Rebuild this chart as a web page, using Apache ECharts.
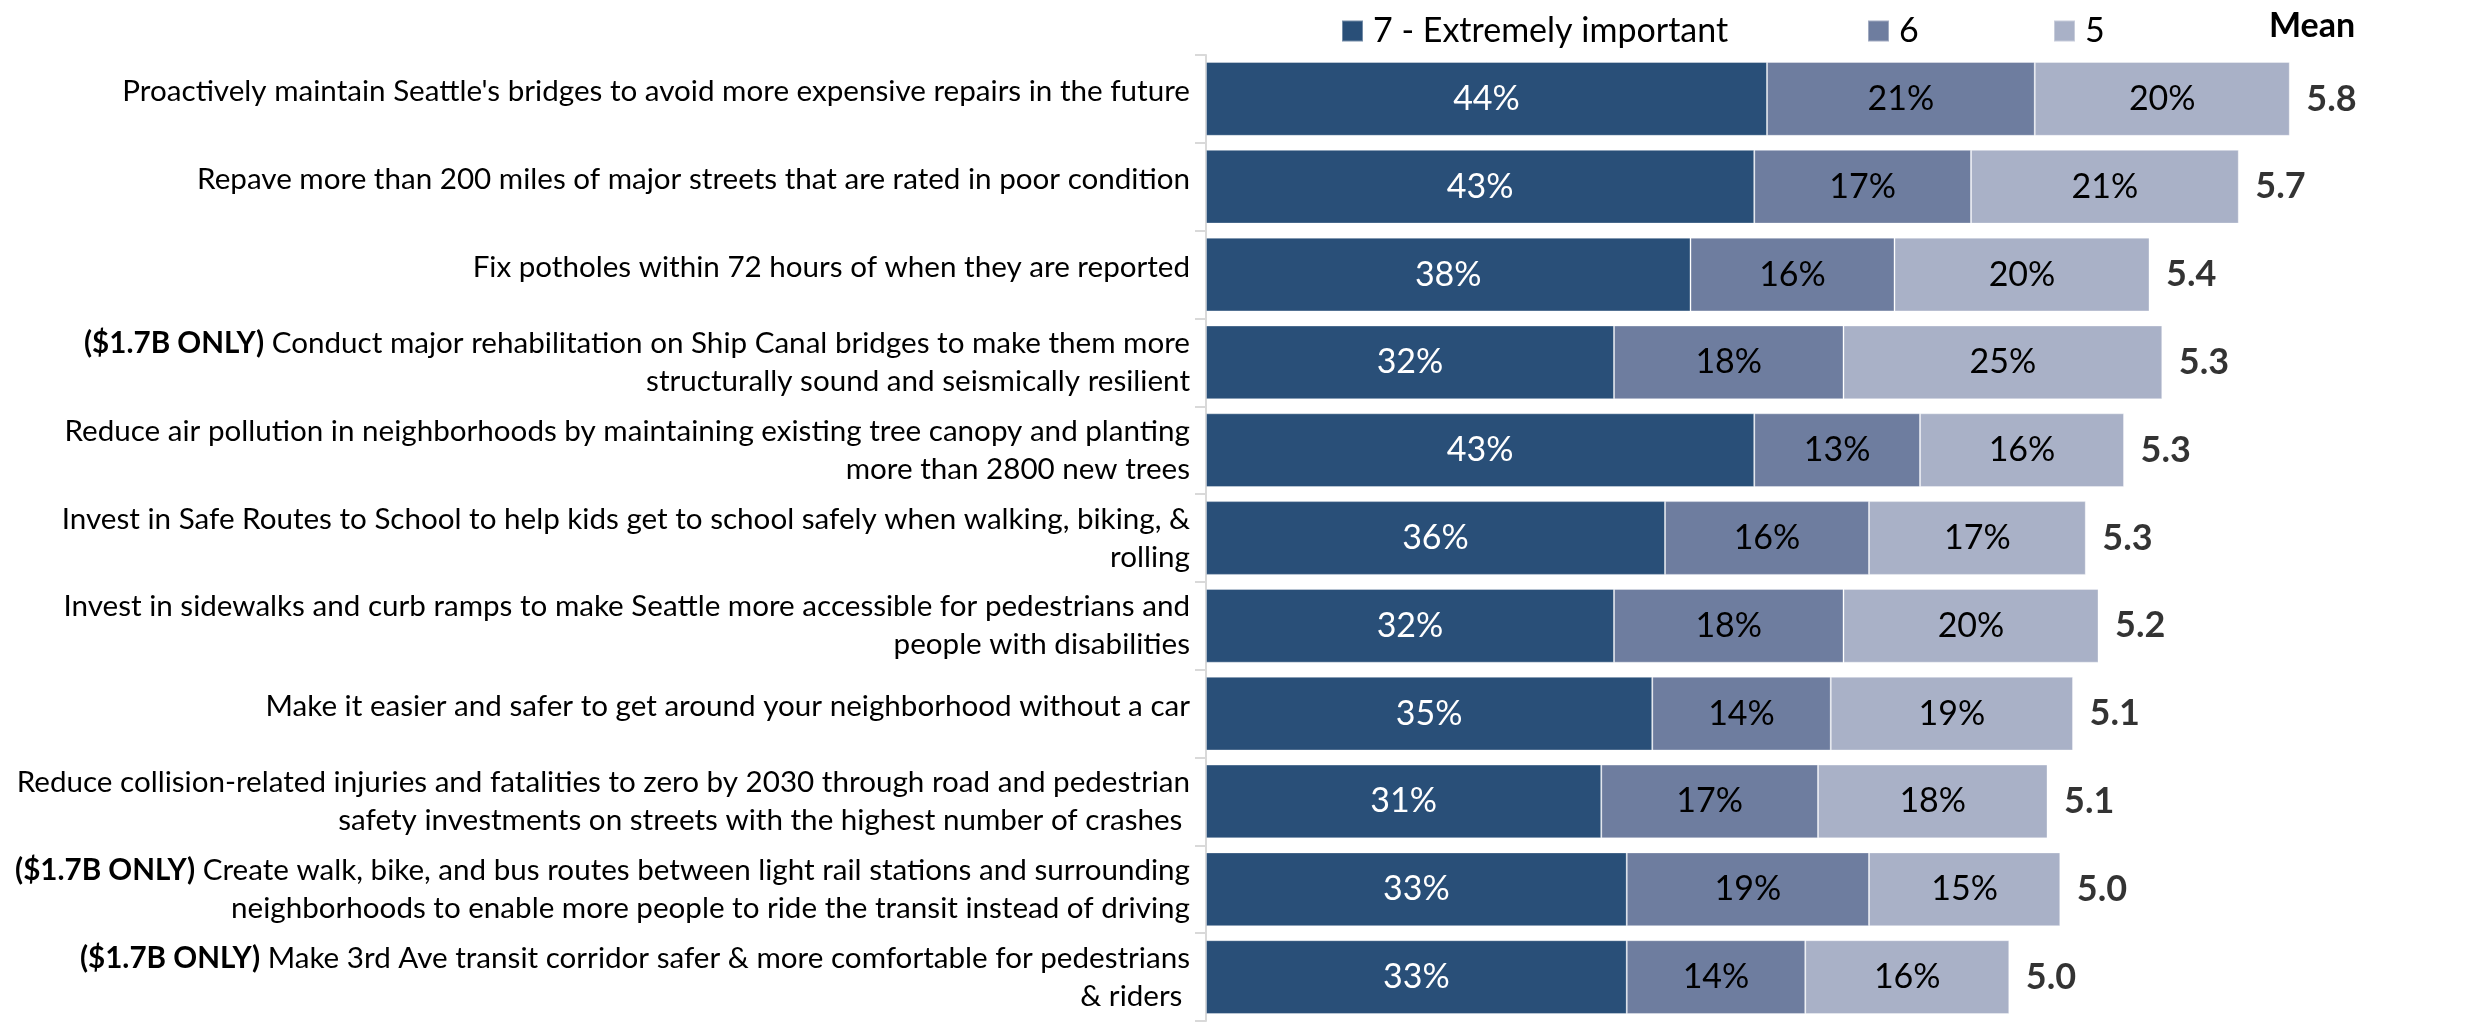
<!DOCTYPE html>
<html>
<head>
<meta charset="utf-8">
<title>Importance of transportation priorities</title>
<script src="https://cdn.jsdelivr.net/npm/echarts@6/dist/echarts.min.js"></script>
<style>
  html, body { margin: 0; padding: 0; background: #ffffff; }
  #chart { width: 2483px; height: 1023px; }
</style>
</head>
<body>
<div id="chart"></div>
<script>
// Survey items, top to bottom (line breaks as they wrap in the label column)
const categories = [
  "Proactively maintain Seattle's bridges to avoid more expensive repairs in the future",
  "Repave more than 200 miles of major streets that are rated in poor condition",
  "Fix potholes within 72 hours of when they are reported",
  "($1.7B ONLY) Conduct major rehabilitation on Ship Canal bridges to make them more\nstructurally sound and seismically resilient",
  "Reduce air pollution in neighborhoods by maintaining existing tree canopy and planting\nmore than 2800 new trees",
  "Invest in Safe Routes to School to help kids get to school safely when walking, biking, &\nrolling",
  "Invest in sidewalks and curb ramps to make Seattle more accessible for pedestrians and\npeople with disabilities",
  "Make it easier and safer to get around your neighborhood without a car",
  "Reduce collision-related injuries and fatalities to zero by 2030 through road and pedestrian\nsafety investments on streets with the highest number of crashes ",
  "($1.7B ONLY) Create walk, bike, and bus routes between light rail stations and surrounding\nneighborhoods to enable more people to ride the transit instead of driving",
  "($1.7B ONLY) Make 3rd Ave transit corridor safer & more comfortable for pedestrians\n& riders "
];

// Share of respondents (%) by rating
const rating7 = [44, 43, 38, 32, 43, 36, 32, 35, 31, 33, 33];
const rating6 = [21, 17, 16, 18, 13, 16, 18, 14, 17, 19, 14];
const rating5 = [20, 21, 20, 25, 16, 17, 20, 19, 18, 15, 16];

// Mean rating on the 1-7 scale
const means = [5.8, 5.7, 5.4, 5.3, 5.3, 5.3, 5.2, 5.1, 5.1, 5.0, 5.0];

const seriesNames = ['7 - Extremely important', '6', '5'];
const seriesColors = ['#294f78', '#6e7d9f', '#a9b1c7'];
const labelColors = ['#ffffff', '#000000', '#000000'];

const FONT = "Lato, 'DejaVu Sans Condensed', 'Liberation Sans', sans-serif";
const PREFIX = '($1.7B ONLY)';
const AXIS_FONT_SIZE = 29.6;

const chart = echarts.init(document.getElementById('chart'), null, { renderer: 'canvas' });

const barSeries = [rating7, rating6, rating5].map((vals, k) => ({
  name: seriesNames[k],
  type: 'bar',
  stack: 'total',
  barCategoryGap: '16%',
  data: vals,
  itemStyle: {
    color: seriesColors[k],
    borderColor: 'rgba(255,255,255,0.35)',
    borderWidth: 1
  },
  label: {
    show: true,
    position: 'inside',
    formatter: p => p.value + '%',
    color: labelColors[k],
    fontFamily: FONT,
    fontSize: 34
  },
  emphasis: { disabled: true }
}));

// Mean value placed just past the end of each stacked bar
const totals = categories.map((_, i) => rating7[i] + rating6[i] + rating5[i]);
const meanSeries = {
  name: 'Mean',
  type: 'scatter',
  data: totals.map((t, i) => [t, i]),
  symbolSize: 1,
  itemStyle: { color: 'transparent' },
  silent: true,
  label: {
    show: true,
    position: 'right',
    distance: 16,
    formatter: p => means[p.dataIndex].toFixed(1),
    color: '#000000',
    fontFamily: FONT,
    fontWeight: 'bold',
    fontSize: 36
  }
};

const legendCommon = {
  top: 14,
  padding: 0,
  icon: 'rect',
  itemWidth: 21,
  itemHeight: 21,
  selectedMode: false,
  textStyle: {
    fontFamily: FONT,
    fontSize: 34,
    color: '#000000',
    lineHeight: 21,
    padding: [0, 0, 0, 5]
  }
};

const axisText = { fontFamily: FONT, fontSize: AXIS_FONT_SIZE, lineHeight: 38, color: '#000000' };

chart.setOption({
  animation: false,
  backgroundColor: '#ffffff',
  title: {
    text: 'Mean',
    left: 2269,
    top: 9,
    padding: 0,
    textStyle: {
      fontFamily: FONT,
      fontWeight: 'bold',
      fontSize: 34,
      color: '#000000'
    }
  },
  legend: [
    Object.assign({ data: [seriesNames[0]], left: 1341 }, legendCommon),
    Object.assign({ data: [seriesNames[1]], left: 1867 }, legendCommon),
    Object.assign({ data: [seriesNames[2]], left: 2053 }, legendCommon)
  ],
  grid: { left: 1206, right: 2, top: 55, bottom: 2, containLabel: false, outerBoundsMode: 'none' },
  xAxis: {
    type: 'value',
    min: 0,
    max: 100,
    show: false
  },
  yAxis: {
    type: 'category',
    inverse: true,
    data: categories,
    axisLine: { show: true, lineStyle: { color: '#d9d9d9', width: 2 } },
    axisTick: { show: true, length: 11, lineStyle: { color: '#d9d9d9', width: 2 } },
    axisLabel: Object.assign({
      margin: 16,
      align: 'right',
      formatter: v => {
        // single-line items sit slightly above the bar centre
        if (v.indexOf('\n') < 0) {
          return '{s|' + v + '}';
        }
        if (v.startsWith(PREFIX)) {
          return '{b|' + PREFIX + '}' + v.slice(PREFIX.length);
        }
        return v;
      },
      rich: {
        b: Object.assign({ fontWeight: 'bold' }, axisText),
        s: Object.assign({ padding: [0, 0, 14, 0] }, axisText)
      }
    }, axisText)
  },
  series: barSeries.concat([meanSeries])
});
</script>
</body>
</html>
